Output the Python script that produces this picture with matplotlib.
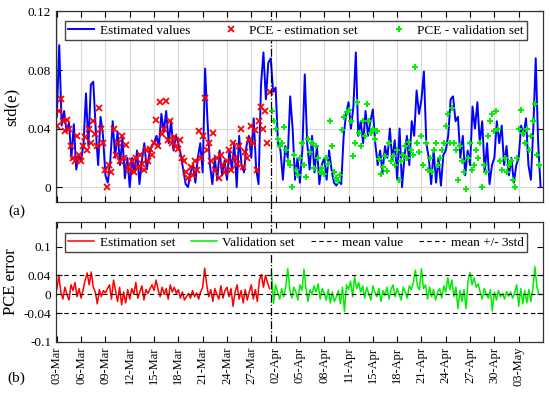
import numpy as np
import matplotlib
matplotlib.use("Agg")
import matplotlib.pyplot as plt
from matplotlib.lines import Line2D
from matplotlib.transforms import blended_transform_factory

plt.rcParams["font.family"] = ["Liberation Serif", "DejaVu Serif"]

# ---- data (x in days from 03-Mar) ----
split_day = 26.4
tick_days = [0, 3, 6, 9, 12, 15, 18, 21, 24, 27, 30, 33, 36, 39, 42, 45, 48, 51, 54, 57]
tick_labels = ["03-Mar", "06-Mar", "09-Mar", "12-Mar", "15-Mar", "18-Mar", "21-Mar",
               "24-Mar", "27-Mar", "02-Apr", "05-Apr", "08-Apr", "11-Apr", "15-Apr",
               "18-Apr", "21-Apr", "24-Apr", "27-Apr", "30-Apr", "03-May"]

# estimated std(e), one value every 0.3 day
estimated = [
    0.048, 0.097, 0.042, 0.052, 0.038, 0.044, 0.020, 0.043, 0.012, 0.022,
    0.018, 0.030, 0.064, 0.028, 0.070, 0.072, 0.040, 0.015, 0.048, 0.035,
    0.008, 0.003, 0.018, 0.045, 0.020, 0.038, 0.015, 0.034, 0.006, 0.020,
    0.000, 0.020, 0.010, 0.025, 0.002, 0.018, 0.030, 0.012, 0.022, 0.028,
    0.030, 0.035, 0.028, 0.050, 0.038, 0.052, 0.030, 0.045, 0.025, 0.035,
    0.030, 0.022, 0.012, 0.002, 0.000, 0.010, 0.015, 0.003, 0.020, 0.030,
    0.010, 0.081, 0.045, 0.015, 0.002, 0.020, 0.005, 0.025, 0.008, 0.018,
    0.005, 0.025, 0.012, 0.030, 0.000, 0.035, 0.015, 0.010, 0.028, 0.035,
    0.020, 0.047, 0.012, 0.002, 0.070, 0.092, 0.060, 0.085, 0.088, 0.065,
    0.068, 0.030, 0.025, 0.005, 0.028, 0.020, 0.062, 0.040, 0.005, 0.020,
    0.003, 0.025, 0.077, 0.030, 0.012, 0.035, 0.010, 0.028, 0.002, 0.015,
    0.020, 0.005, 0.025, 0.012, 0.003, 0.001, 0.004, 0.002, 0.035, 0.050,
    0.058, 0.040, 0.055, 0.092, 0.035, 0.045, 0.030, 0.052, 0.035, 0.045,
    0.053, 0.030, 0.015, 0.025, 0.010, 0.028, 0.020, 0.040, 0.018, 0.032,
    0.005, 0.040, 0.000, 0.020, 0.035, 0.015, 0.045, 0.035, 0.066, 0.050,
    0.060, 0.079, 0.030, 0.020, 0.002, 0.025, 0.003, 0.020, 0.001, 0.022,
    0.025, 0.035, 0.060, 0.062, 0.045, 0.048, 0.020, 0.035, 0.008, 0.025,
    0.015, 0.055, 0.040, 0.058, 0.030, 0.045, 0.010, 0.030, 0.002, 0.015,
    0.020, 0.045, 0.030, 0.042, 0.015, 0.028, 0.008, 0.020, 0.003, 0.015,
    0.020, 0.042, 0.035, 0.047, 0.015, 0.005, 0.040, 0.088, 0.030, 0.000,
]

# PCE estimation set, one value every 0.25 day from day 0
pce_est = [
    0.042, 0.052, 0.060, 0.045, 0.038, 0.046, 0.040, 0.028, 0.020, 0.018, 0.035, 0.022,
    0.018, 0.028, 0.034, 0.025, 0.040, 0.030, 0.045, 0.036, 0.028, 0.054, 0.040, 0.030,
    0.012, 0.000, 0.015, 0.010, 0.040, 0.022, 0.030, 0.018, 0.035, 0.020, 0.029, 0.014,
    0.012, 0.018, 0.010, 0.020, 0.014, 0.022, 0.016, 0.012, 0.025, 0.018, 0.026, 0.022,
    0.030, 0.046, 0.028, 0.058, 0.036, 0.040, 0.059, 0.032, 0.045, 0.030, 0.034, 0.028,
    0.026, 0.032, 0.020, 0.018, 0.010, 0.006, 0.014, 0.008, 0.018, 0.012, 0.038, 0.020,
    0.035, 0.061, 0.025, 0.030, 0.018, 0.037, 0.012, 0.020, 0.006, 0.022, 0.015, 0.010,
    0.018, 0.025, 0.012, 0.030, 0.020, 0.016, 0.028, 0.040, 0.014, 0.024, 0.020, 0.032,
    0.042, 0.030, 0.039, 0.012, 0.045, 0.055, 0.040, 0.052, 0.030, 0.065,
]

# PCE validation set, one value every 0.25 day from day 26.5
pce_val = [
    0.052, 0.045, 0.040, 0.033, 0.028, 0.030, 0.041, 0.025, 0.018, 0.015,
    0.000, 0.022, 0.012, 0.008, 0.020, 0.030, 0.015, 0.007, 0.033, 0.024, 0.030, 0.013,
    0.028, 0.020, 0.010, 0.013, 0.009, 0.020, 0.016, 0.045, 0.028, 0.010, 0.006, 0.004,
    0.008, 0.039, 0.048, 0.051, 0.053, 0.045, 0.021, 0.030, 0.058, 0.037, 0.028, 0.045,
    0.035, 0.057, 0.045, 0.037, 0.040, 0.033, 0.038, 0.019, 0.009, 0.014, 0.021, 0.011,
    0.030, 0.018, 0.021, 0.015, 0.025, 0.005, 0.018, 0.022, 0.028, 0.020, 0.031, 0.025,
    0.022, 0.082, 0.030, 0.024, 0.035, 0.015, 0.030, 0.012, 0.020, 0.010, 0.025, 0.030,
    0.015, 0.020, 0.025, 0.030, 0.042, 0.050, 0.030, 0.054, 0.030, 0.025, 0.005, 0.028,
    0.018, 0.010, -0.001, 0.020, 0.030, 0.012, 0.015, 0.025, 0.020, 0.030, 0.000, 0.015,
    0.010, 0.035, 0.045, 0.050, 0.038, 0.052, 0.040, 0.018, 0.012, 0.020, 0.010, 0.015,
    0.018, 0.005, 0.000, 0.020, 0.040, 0.053, 0.037, 0.030, 0.040, 0.025, 0.035, 0.045,
    0.057, 0.022, 0.015,
]

# PCE error, same x grids as the PCE sets
err_est = [
    0.010, 0.040, 0.005, -0.010, 0.015, 0.000, -0.012, 0.020, 0.008, 0.025, -0.005, 0.012,
    -0.008, 0.010, 0.030, 0.045, 0.020, 0.047, 0.015, 0.005, -0.020, 0.010, -0.005, 0.008,
    0.003, 0.012, 0.020, -0.010, 0.030, 0.008, -0.015, 0.015, -0.022, 0.005, -0.018, 0.010,
    -0.010, 0.012, 0.000, 0.025, -0.008, 0.005, 0.018, -0.012, 0.010, 0.002, 0.012, 0.020,
    0.008, 0.030, 0.010, -0.005, 0.015, 0.000, 0.012, -0.010, 0.020, 0.005, 0.015, 0.002,
    0.010, -0.008, 0.005, -0.012, -0.005, 0.002, -0.008, 0.008, -0.005, 0.003, -0.010, 0.005,
    0.015, 0.055, 0.020, -0.005, 0.010, -0.015, 0.012, 0.000, -0.010, 0.018, -0.008, 0.008,
    0.015, -0.005, 0.012, -0.025, 0.005, 0.020, -0.010, 0.008, -0.018, 0.010, -0.012, 0.005,
    0.020, -0.010, 0.010, -0.015, 0.030, 0.042, 0.015, 0.040, 0.025, 0.012,
]
err_val = [
    0.044, -0.019, 0.020, 0.005, -0.010, 0.012, -0.005, 0.015, 0.054, 0.010,
    -0.008, 0.015, 0.005, -0.012, 0.020, 0.008, 0.053, 0.012, -0.015, 0.010, 0.000, 0.018,
    0.005, 0.022, -0.010, 0.012, 0.002, -0.012, 0.010, -0.018, 0.005, -0.015, -0.005, 0.008,
    -0.020, 0.015, -0.036, 0.020, 0.010, 0.028, -0.005, 0.037, 0.012, 0.025, 0.005, 0.018,
    -0.008, 0.015, 0.002, -0.012, 0.018, 0.005, -0.005, 0.012, -0.015, 0.008, -0.002, 0.015,
    -0.010, 0.010, 0.020, -0.005, 0.012, 0.000, -0.012, 0.015, 0.005, -0.008, 0.018, 0.010,
    0.025, 0.051, 0.018, 0.010, 0.054, 0.012, 0.020, -0.010, 0.015, -0.005, 0.010, -0.012,
    0.005, 0.012, -0.008, 0.018, 0.005, 0.035, 0.010, 0.030, -0.005, 0.015, -0.030, 0.008,
    -0.015, 0.010, -0.030, 0.030, 0.046, 0.020, 0.035, 0.015, 0.022, 0.005, -0.010, 0.012,
    0.000, -0.008, 0.010, -0.035, 0.005, -0.012, 0.008, -0.005, 0.002, -0.010, 0.006, -0.004,
    0.005, -0.008, 0.003, 0.020, -0.025, 0.012, -0.020, 0.008, -0.018, 0.010, -0.015, 0.012,
    0.058, 0.015, 0.000,
]
err_mean = 0.0
err_3std = 0.04

x_est_line = np.arange(len(estimated)) * 0.3
x_pce_est = np.arange(len(pce_est)) * 0.25
x_pce_val = 26.5 + np.arange(len(pce_val)) * 0.25

# ---- figure ----
fig = plt.figure(figsize=(5.5, 3.99), dpi=100)
ax1 = fig.add_axes([0.1018, 0.4945, 0.8855, 0.4767])
ax2 = fig.add_axes([0.1018, 0.1429, 0.8855, 0.3008])

ax1.plot(x_est_line, estimated, color="blue", lw=1.4, label="Estimated values")
ax1.plot(x_pce_est, pce_est, "x", color="red", ms=4, mew=1.3, label="PCE - estimation set")
ax1.plot(x_pce_val, pce_val, "+", color="#00ee00", ms=5, mew=1.4, label="PCE - validation set")
ax1.set_ylim(-0.01, 0.12)
ax1.set_yticks([0, 0.04, 0.08, 0.12])
ax1.set_yticklabels(["0", "0.04", "0.08", "0.12"])
ax1.grid(True, color="#d9d9d9", lw=0.8)
ax1.set_axisbelow(True)
ax1.set_ylabel("std(e)", fontsize=12)
ax1.yaxis.set_label_coords(-0.075, 0.5)
ax1.legend(loc="lower left", bbox_to_anchor=(0.018, 0.85, 0.949, 0.095), mode="expand",
           ncol=3, fontsize=9.5, numpoints=1, fancybox=False, framealpha=1,
           edgecolor="#444444", borderaxespad=0, borderpad=0.25, handlelength=2.0,
           handletextpad=0.4)

ax2.plot(x_pce_est, err_est, color="red", lw=1.1, label="Estimation set")
ax2.plot(x_pce_val, err_val, color="#00ee00", lw=1.1, label="Validation set")
ax2.axhline(err_mean, color="black", ls="--", lw=0.8, dashes=(4, 3), zorder=5, label="mean value")
ax2.axhline(err_mean + err_3std, color="black", ls="--", lw=0.8, dashes=(4, 3), zorder=5,
            label="mean +/- 3std")
ax2.axhline(err_mean - err_3std, color="black", ls="--", lw=0.8, dashes=(4, 3), zorder=5)
ax2.set_ylim(-0.1, 0.152)
ax2.set_yticks([-0.1, -0.04, 0, 0.04, 0.1])
ax2.set_yticklabels(["-0.1", "-0.04", "0", "0.04", "0.1"])
ax2.set_ylabel("PCE error", fontsize=12)
ax2.yaxis.set_label_coords(-0.075, 0.5)
ax2.legend(loc="lower left", bbox_to_anchor=(0.018, 0.75, 0.949, 0.158), mode="expand",
           ncol=4, fontsize=9.5, fancybox=False, framealpha=1, edgecolor="#444444",
           borderaxespad=0, borderpad=0.25, handlelength=2.0, handletextpad=0.4)

for ax in (ax1, ax2):
    ax.set_xlim(-0.1, 60.0)
    ax.set_xticks(tick_days)
    ax.tick_params(direction="in", top=True, right=True, length=4, labelsize=9.5, width=0.8)
    ax.axvline(split_day, color="black", lw=0.9, ls="-.")
    for s in ax.spines.values():
        s.set_color("#333333")
        s.set_linewidth(0.9)
ax1.set_xticklabels([])
ax2.set_xticklabels(tick_labels, rotation=90, fontsize=9)

# dash-dot separator through the gap between panels
trans = blended_transform_factory(ax1.transData, fig.transFigure)
y_lo = ax2.get_position().y1
y_hi = ax1.get_position().y0
fig.add_artist(Line2D([split_day, split_day], [y_lo, y_hi], transform=trans,
                      color="black", lw=0.9, ls="-."))

fig.text(0.03, 0.47, "(a)", fontsize=11, va="center", ha="center")
fig.text(0.03, 0.053, "(b)", fontsize=11, va="center", ha="center")
ax1.text(split_day - 0.8, -0.098, "estimation", fontsize=10, ha="right", va="center",
         transform=ax1.transData)
ax1.text(split_day + 0.8, -0.098, "validation", fontsize=10, ha="left", va="center",
         transform=ax1.transData)

fig.savefig("out.png", dpi=100)
